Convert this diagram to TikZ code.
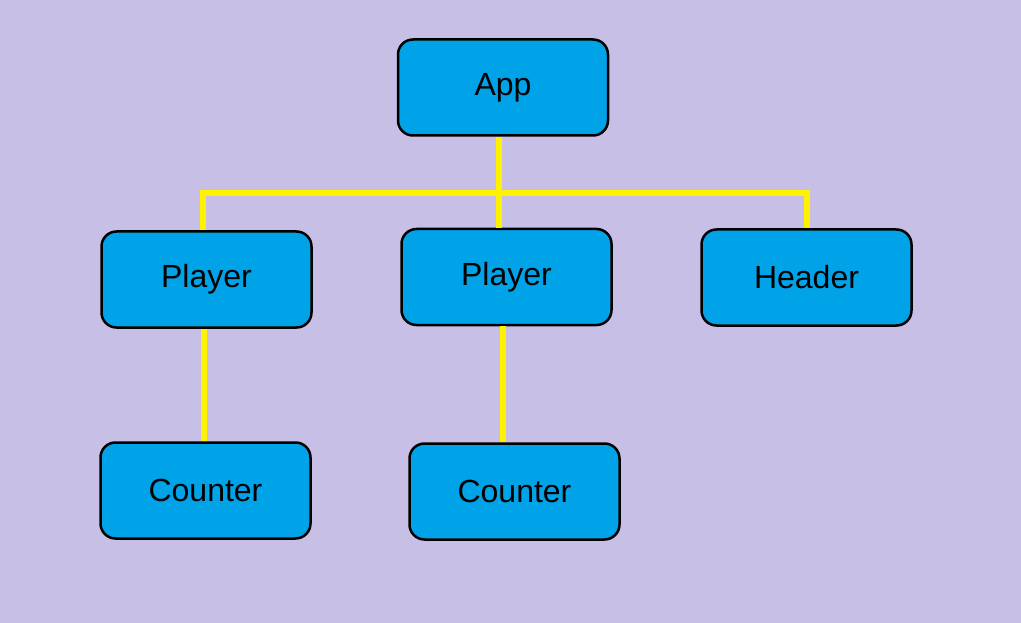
\documentclass[tikz,border=0pt]{standalone}
\usepackage{fontspec}
\setmainfont{Liberation Sans}
\definecolor{paintbg}{RGB}{200,191,231}
\definecolor{paintblue}{RGB}{0,162,232}
\definecolor{paintyellow}{RGB}{255,242,0}
\begin{document}
\begin{tikzpicture}[x=1pt, y=-1pt,
    comp/.style={draw=black, line width=2.5pt, fill=paintblue, rounded corners=15pt,
        minimum width=210pt, minimum height=96pt, inner sep=0pt,
        font=\fontsize{32}{38}\selectfont},
    wire/.style={paintyellow, line width=6pt}]
    % Background
    \fill[paintbg] (0,0) rectangle (1021,623);
    \useasboundingbox (0,0) rectangle (1021,623);

    % Components
    \node[comp] (app) at (503, 87.5) {App};
    \node[comp] (p1) at (206.5, 279.5) {Player};
    \node[comp] (p2) at (506.5, 277) {Player};
    \node[comp] (hd) at (806.5, 277.5) {Header};
    \node[comp] (c1) at (205.5, 490.5) {Counter};
    \node[comp] (c2) at (514.5, 491.5) {Counter};

    % Wires
    \coordinate (bus) at (0, 193);
    \coordinate (top) at ([xshift=-4pt]app.south);
    \draw[wire] (top) -- (top |- bus);
    \draw[wire] ([xshift=-4pt]p1.north) |- (bus -| hd.north) -- (hd.north);
    \draw[wire] (top |- bus) -- (top |- p2.north);
    \draw[wire] ([xshift=-3pt]p1.south) -- ([xshift=-3pt]p1.south |- c1.north);
    \draw[wire] ([xshift=-4pt]p2.south) -- ([xshift=-4pt]p2.south |- c2.north);
\end{tikzpicture}
\end{document}
